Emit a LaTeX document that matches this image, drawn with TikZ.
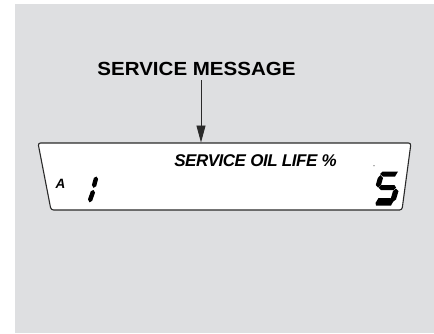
\documentclass[tikz,border=0pt]{standalone}
\usepackage{fontspec}
\setmainfont{Liberation Sans}
\newfontfamily\msgfont[FakeStretch=1.08]{Liberation Sans}
\newfontfamily\lcdfont[LetterSpace=-2.8]{Liberation Sans}
\usetikzlibrary{arrows.meta, positioning}
\definecolor{panelgrau}{HTML}{DEDFE1}
\definecolor{strich}{HTML}{2A2A2A}

\begin{document}
\begin{tikzpicture}[
    x=1pt, y=-1pt,
    msg/.style={font=\msgfont\bfseries\fontsize{19}{19}\selectfont,
                inner sep=0pt, outer sep=0pt, anchor=base, text=black},
    lcd/.style={font=\lcdfont\bfseries\itshape\fontsize{17}{17}\selectfont,
                inner sep=0pt, outer sep=0pt, anchor=base, text=black},
    panel/.style={draw=strich, line width=1.1pt, fill=white, rounded corners=2.5pt},
    arr/.style={-{Triangle[length=17pt, width=9pt]}, line width=0.9pt, strich},
    seg/.style={fill=black, draw=none}
  ]
  \useasboundingbox (0,0) rectangle (434,333);
  \fill[panelgrau] (15,4) rectangle (434,333);

  % display panel
  \draw[panel] (51,210) -- (38,143) -- (411,143) -- (402,210) -- cycle;
  \coordinate (paneltop) at (201,142.5);

  \node[msg] (svcmsg) at (196.5,75) {SERVICE MESSAGE};
  \node[lcd] (oillife) at (255.5,166) {SERVICE OIL LIFE \%};
  \node[lcd, font=\bfseries\itshape\fontsize{13.5}{13.5}\selectfont] (range) at (60.5,188) {A};

  \draw[arr, shorten <=5pt] (paneltop |- svcmsg.south) -- (paneltop);

  % digit 1
  \fill[seg] (96.5,176.5) -- (98.1,179) -- (96.2,186.2) -- (93.5,187.8) -- (91.9,185) -- (93.9,177.9) -- cycle;
  \fill[seg] (93.5,190) -- (95,192.6) -- (92.2,200.8) -- (89.5,202.3) -- (88,199.4) -- (90.8,191.2) -- cycle;
  % digit 5
  \fill[seg] (380,174) -- (382.5,171.5) -- (398,171.5) -- (395,176.5) -- (383,176.5) -- cycle;
  \fill[seg] (380.5,175) -- (383,178) -- (381,185) -- (378,187.5) -- (375.8,185) -- (377.8,178) -- cycle;
  \fill[seg] (378.5,187.5) -- (381,185.2) -- (394.5,185.2) -- (396,187.5) -- (393.5,190) -- (381,190) -- cycle;
  \fill[seg] (396,188.5) -- (398.5,191) -- (396,199.5) -- (392.5,202) -- (390.5,199.5) -- (393,191) -- cycle;
  \fill[seg] (375.5,203) -- (378.5,198) -- (390.5,198) -- (393.5,201) -- (391,205.5) -- (376,205.5) -- cycle;
  \fill[black!70] (374,165.7) circle (0.6pt);
\end{tikzpicture}
\end{document}
